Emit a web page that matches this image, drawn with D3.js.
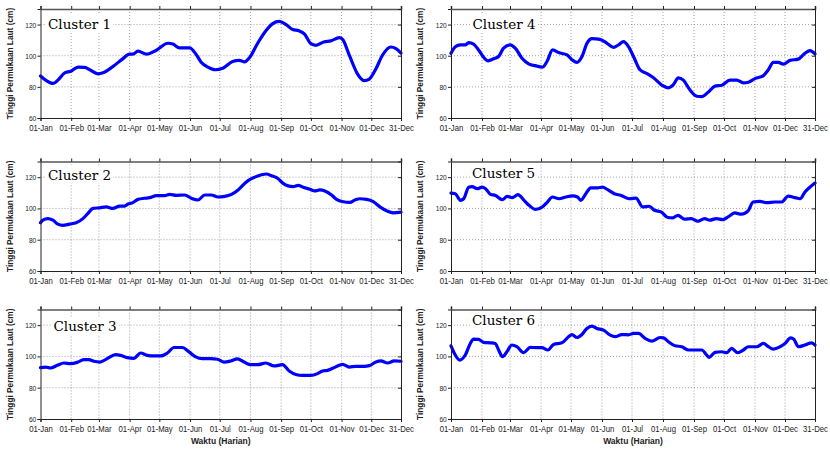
<!DOCTYPE html>
<html>
<head>
<meta charset="utf-8">
<script src="https://cdn.jsdelivr.net/npm/d3@7"></script>
<style>
  html, body { margin: 0; padding: 0; background: #fff; }
  svg { display: block; }
</style>
</head>
<body>
<svg id="chart" width="830" height="449"></svg>
<script>
// ---------- data ----------
const tickDays   = [0, 31, 59, 90, 120, 151, 181, 212, 243, 273, 304, 334, 364];
const tickLabels = ["01-Jan","01-Feb","01-Mar","01-Apr","01-May","01-Jun","01-Jul","01-Aug","01-Sep","01-Oct","01-Nov","01-Dec","31-Dec"];
const yTicks = [60, 80, 100, 120];
const yLabel = "Tinggi Permukaan Laut (cm)";
const xLabel = "Waktu (Harian)";
const clusterNames = ["Cluster 1","Cluster 2","Cluster 3","Cluster 4","Cluster 5","Cluster 6"];

const c1Days = [0,6,12.8,17.8,24.5,30.6,38,44.7,49.7,58,63,73,83,90,93.4,98.4,107,117,128.7,133.7,140.4,150.5,157,162,169,176.7,184,194,201,206,211,219,228,234.5,241,248,254.7,261,266.4,273,278,286.6,293,301.7,305,312,320,327,332,338.7,345,353.8,359,364];
const c1Vals = [87,84,82.2,84.5,89,90,92.7,92.5,91,88.4,89,93,98,101,101,103,101,103.5,108,107.5,105,105,101,96,92.7,91,92,96.3,97,96,98.7,107.7,116.3,120.6,122,120,116.8,116,114,107.7,106.7,109,109.5,111.6,110.5,100,88.4,84,85,91.6,100,105.6,104.5,101.7];

const c2Days = [0,2.4,7.4,12.5,17.5,22.6,29.3,36,42.8,47.9,52.9,59.6,66.4,73.1,79.9,84.9,88.3,93.3,98.4,105.1,110.2,117,125.4,130.4,137.2,145.6,152.3,159,165.8,172.5,179.3,186,192.8,199.5,204.6,209.6,216.4,223.1,228.1,233.2,240,245,250,255.1,260.2,265.2,272,277,282,287.1,293.9,298.9,305.7,312.4,317.5,322.5,329.3,336,342.7,349.5,356.2,364];
const c2Vals = [90.8,92.5,93.5,92.5,90,89.2,90,90.8,93.5,96.8,100,100.4,101,100,101.5,101.5,102.8,103.7,105.8,106.5,106.9,108.2,108.2,109,108.4,108.6,106.5,105.4,108.6,108.6,107.3,107.7,109,111.8,115,117.8,120,121.5,122,120.9,119,116,114.4,114,114.8,113.5,112.3,111.2,111.8,111.2,108.6,105.8,104.3,103.9,105.4,106.2,105.8,104.3,101,98.5,97.2,97.6];

const c3Days = [0,5.1,10.1,16.9,23.6,30.3,37.1,43.8,48.9,53.9,60,67.4,75.8,80.9,87.6,94.4,101.1,107.8,114.6,121.3,128.1,134.8,143.2,150,156.7,163.4,171.9,178.6,185.4,192.1,198.8,205.6,212.3,219.1,227.5,235.9,244.3,251.1,257.8,264.5,273,279.7,284.8,289.8,294.9,301.6,305,311.7,318.5,326.9,331.9,338.7,343.7,350.5,357.2,364];
const c3Vals = [92.8,93.2,92.6,94.3,95.8,95.4,96.2,97.9,97.9,96.9,96.4,98.6,101.2,100.7,99.2,98.8,102.2,100.7,100.3,100.3,102.2,105.7,105.7,102.9,99.7,98.6,98.6,98.2,96.4,97.1,98.4,96.4,94.7,94.7,95.8,93.9,94.7,90.7,88.5,87.9,87.9,89,90.7,91.1,92.4,94.3,94.9,93.2,93.7,93.7,94.1,96.4,97.1,95.8,97.1,96.9];

const c4Days = [0,4.3,9.3,14.3,17.7,22.6,27.6,32.6,37,42.6,47.6,52.6,59.3,64.3,71,77.6,84.3,91.6,96,101.6,107.6,116,121,126,131,136,141,149,156,162.5,167.5,172.5,177.5,182.5,189,196,202.5,211,217,222.4,227.4,232.4,239,245.8,250.7,257.4,264,270.7,279,285.7,292.4,297.4,304,312.4,317.4,322.4,327.3,332.3,339,347.3,354,359,364];
const c4Vals = [101.6,105.8,107,107,108.4,107.5,103.7,99,96.7,98,99.5,104.8,107,104.8,98.4,94.8,93.6,92.7,96.3,103.7,102,100.5,97.4,95.7,99.5,108,111,110.5,108,105.4,107,109,105.8,99.5,91,88.5,85.8,81,79.4,81.5,85.8,84.3,78,74,73.7,76.7,80.5,81,84.3,84.3,82.6,83,85.3,87.2,91,95.7,95.7,94.6,97,97.8,101.6,103.3,101.2];

const c5Days = [0,4.3,9.4,12.7,17.7,21.1,26.1,31.1,34.5,39.5,44.5,51.2,56.2,61.2,66.9,73,78,84.6,91.4,96.4,101.4,108.1,114.8,121.5,126.5,129.8,134.8,139.9,146.6,151.6,156.6,163.3,170,178.3,185,191.7,198.4,203.4,210.1,216.8,221.8,226.9,233.6,240.2,246.9,253.6,258.7,265.3,272,277.1,283.7,290.4,297.1,302.1,308.8,315.5,323.9,330.6,337.3,344,349,354,359,364];
const c5Vals = [109.8,109.4,105.2,106.2,113.6,114,112.6,113.6,112.6,109,108.3,105.6,107.7,106.9,108.8,105.2,102,99.4,101,104.1,107.3,106.2,107.3,108,107.3,105.2,109.4,113.2,113.2,113.6,112,109.4,108.3,106.2,106.6,101,101.4,98.8,97.8,94.2,94,95.6,93.1,93.5,91.8,93.5,92.5,93.5,92.9,94.6,97.1,96.3,98.4,104.1,104.5,103.7,104.1,104.1,107.9,106.9,106.2,110.5,113.6,116.2];

const c6Days = [0,4.3,8.7,14.3,19.3,22.6,27.6,32.6,39.3,44.3,47.6,51.6,55.9,60.9,65.9,72.6,79.3,85.9,90.9,96.9,102.6,110.9,117.5,120.9,125.9,130.9,135.9,140.9,145.9,152.5,159.2,164.2,170.8,177.5,182.5,187.5,194.1,200.8,209.1,212.5,217.5,224.1,230.8,237.4,244.1,250.7,255.7,258.1,264.1,270.7,275.7,280.7,286.7,292.4,297.4,305.7,312.4,317.4,322.4,329,334,339.7,343,347.3,354,360.7,364];
const c6Vals = [106.8,100.9,97.7,100.9,108.3,111.1,110.9,109,108.7,108.3,104.1,99.8,103,107.3,106.2,102.4,105.8,105.6,105.6,104.1,107.7,108.7,112.6,114,112.1,114,117.9,119.4,117.9,116.8,113.6,112.6,114,113.8,114.7,114.7,111.5,109.8,112.1,111.9,109.4,106.8,106.2,104.1,104.1,104.1,100.9,99.4,102.6,103,102.4,105.1,102.4,104.1,106.2,106.2,108.3,106.2,104.7,106.2,108.3,111.9,110.9,106.2,107.3,108.7,107.3];

// ---------- layout ----------
const svg = d3.select("#chart");
const cols = [[40.5, 401], [451, 815]];
const rows = [[9, 118], [161.5, 271], [309.5, 419]];
const panels = [
  {name: clusterNames[0], days: c1Days, vals: c1Vals, c: 0, r: 0, lx: 7.5,  ly: 19.5},
  {name: clusterNames[1], days: c2Days, vals: c2Vals, c: 0, r: 1, lx: 7.5,  ly: 18},
  {name: clusterNames[2], days: c3Days, vals: c3Vals, c: 0, r: 2, lx: 13,   ly: 21.5},
  {name: clusterNames[3], days: c4Days, vals: c4Vals, c: 1, r: 0, lx: 21.5, ly: 19.5},
  {name: clusterNames[4], days: c5Days, vals: c5Vals, c: 1, r: 1, lx: 21,   ly: 16.5},
  {name: clusterNames[5], days: c6Days, vals: c6Vals, c: 1, r: 2, lx: 21,   ly: 15}
];

const tickFont = "'Liberation Sans', Arial, sans-serif";

panels.forEach(p => {
  const [x0, x1] = cols[p.c];
  const [y0, y1] = rows[p.r];
  const x = d3.scaleLinear().domain([0, 364]).range([x0, x1]);
  const y = d3.scaleLinear().domain([60, 130]).range([y1, y0]);
  const g = svg.append("g");

  // grid
  g.append("g").selectAll("line").data(tickDays.slice(1, -1)).join("line")
    .attr("x1", d => x(d)).attr("x2", d => x(d)).attr("y1", y0).attr("y2", y1)
    .attr("stroke", "#8a8a8a").attr("stroke-width", 0.8).attr("stroke-dasharray", "1,2");
  g.append("g").selectAll("line").data(yTicks.slice(1)).join("line")
    .attr("x1", x0).attr("x2", x1).attr("y1", d => y(d)).attr("y2", d => y(d))
    .attr("stroke", "#8a8a8a").attr("stroke-width", 0.8).attr("stroke-dasharray", "1,2");

  // cluster label with white background
  const lbl = g.append("text")
    .attr("x", x0 + p.lx).attr("y", y0 + p.ly)
    .attr("font-family", "'DejaVu Serif', serif").attr("font-size", 13.5)
    .attr("fill", "#000").text(p.name);
  const bb = lbl.node().getBBox();
  g.insert("rect", "text")
    .attr("x", bb.x - 2).attr("y", bb.y - 1).attr("width", bb.width + 4).attr("height", bb.height + 2)
    .attr("fill", "#fff");

  // line
  const line = d3.line().x(d => x(d[0])).y(d => y(d[1])).curve(d3.curveMonotoneX);
  g.append("path").datum(p.days.map((d, i) => [d, p.vals[i]]))
    .attr("d", line).attr("fill", "none").attr("stroke", "#0000ff")
    .attr("stroke-width", 3.2).attr("stroke-linejoin", "round").attr("stroke-linecap", "round");

  // axes
  const xAxis = d3.axisBottom(x).tickValues(tickDays).tickFormat((d, i) => tickLabels[i]).tickSize(3).tickPadding(4);
  const xa = g.append("g").attr("transform", `translate(0,${y1})`).call(xAxis);
  const yAxis = d3.axisLeft(y).tickValues(yTicks).tickSize(3).tickPadding(2);
  const ya = g.append("g").attr("transform", `translate(${x0},0)`).call(yAxis);
  const xTop = d3.axisTop(x).tickValues(tickDays).tickFormat("").tickSize(3);
  const xt = g.append("g").attr("transform", `translate(0,${y0})`).call(xTop);
  const yRight = d3.axisLeft(y).tickValues(yTicks).tickFormat("").tickSize(3);
  const yr = g.append("g").attr("transform", `translate(${x1},0)`).call(yRight);
  [xa, ya, xt, yr].forEach(a => {
    a.selectAll("path").attr("stroke", "#222").attr("stroke-width", 1);
    a.selectAll("line").attr("stroke", "#222").attr("stroke-width", 1);
    a.selectAll("text").attr("font-family", tickFont).attr("fill", "#222");
  });
  xa.selectAll("text").attr("font-size", 8.6).attr("transform", "scale(0.9,1)");
  ya.selectAll("text").attr("font-size", 7.8).attr("transform", "scale(0.85,1)");
  xt.select("path").attr("stroke", "#555").attr("stroke-width", 1.6);

  // y label
  svg.append("text")
    .attr("transform", `translate(${x0 - 28},${(y0 + y1) / 2}) rotate(-90)`)
    .attr("text-anchor", "middle")
    .attr("font-family", "'Liberation Sans', Arial, sans-serif").attr("font-weight", "bold")
    .attr("font-size", 8.3).attr("fill", "#222").text(yLabel);

  if (p.r === 2) {
    svg.append("text")
      .attr("x", (x0 + x1) / 2).attr("y", 443.5).attr("text-anchor", "middle")
      .attr("font-family", "'Liberation Sans', Arial, sans-serif").attr("font-weight", "bold")
      .attr("font-size", 8.5).attr("fill", "#222").text(xLabel);
  }
});
</script>
</body>
</html>
